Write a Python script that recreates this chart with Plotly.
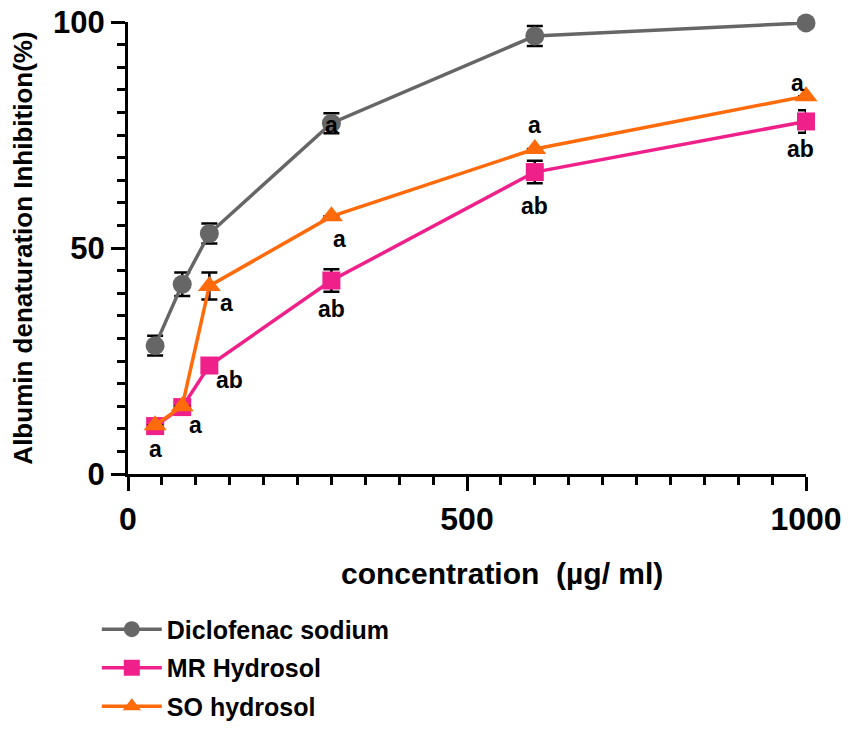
import plotly.graph_objects as go

# concentrations (µg/ml)
conc = [40, 80, 120, 300, 600, 1000]

# % inhibition
diclofenac = [28.4, 42.0, 53.2, 77.6, 96.9, 99.8]
diclofenac_err = [2.2, 2.6, 2.2, 2.2, 2.2, 0.5]
mr_hydrosol = [10.6, 14.8, 24.0, 42.8, 66.8, 78.0]
mr_err = [0, 0, 0, 2.5, 2.5, 2.5]
so_hydrosol = [10.8, 15.0, 41.6, 57.0, 71.9, 83.6]
so_err = [0, 0, 3.0, 0, 0, 0]

# significance letters: (x, y, text)
letter_x = [40, 100, 150, 145, 300, 312, 300, 600, 600, 988, 992]
letter_y = [5.5, 10.8, 20.8, 37.8, 36.6, 52.0, 77.3, 77.2, 59.2, 86.6, 72.0]
letter_txt = ["a", "a", "ab", "a", "ab", "a", "a", "a", "ab", "a", "ab"]

FONT = "Liberation Sans"

fig = go.Figure()


def add_series(y, err, name, color, symbol, size):
    fig.add_trace(go.Scatter(
        x=conc, y=y, name="<b>%s</b>" % name, mode="lines+markers",
        legendgroup=name,
        line=dict(color=color, width=3.5),
        marker=dict(symbol=symbol, size=size, color=color),
        error_y=dict(type="data", array=err, color="black", thickness=2.5, width=8),
        cliponaxis=False,
    ))


add_series(diclofenac, diclofenac_err, "Diclofenac sodium", "#666666", "circle", 19)
add_series(mr_hydrosol, mr_err, "MR Hydrosol", "#f0208a", "square", 18)
add_series(so_hydrosol, so_err, "SO hydrosol", "#ff6a0a", "triangle-up", 20)

for lx, ly, lt in zip(letter_x, letter_y, letter_txt):
    fig.add_annotation(x=lx, y=ly, text="<b>%s</b>" % lt, showarrow=False,
                       font=dict(family=FONT, size=23, color="black"))

# x axis title, set a little right of centre as in the original
fig.add_annotation(xref="paper", yref="paper", x=0.552, y=-0.22,
                   xanchor="center", yanchor="middle", showarrow=False,
                   text="<b>concentration  (µg/ ml)</b>",
                   font=dict(family=FONT, size=30, color="black"))

# margins allow for the page's 8px body margin
fig.update_layout(
    width=850, height=733,
    paper_bgcolor="white", plot_bgcolor="white",
    margin=dict(l=120, r=52, t=14, b=264),
    font=dict(family=FONT, color="black"),
    legend=dict(
        x=-0.046, y=-0.293, xanchor="left", yanchor="top",
        font=dict(family=FONT, size=25, color="black"),
        itemwidth=60, tracegroupgap=3,
    ),
)
fig.update_xaxes(
    range=[0, 1000], tickvals=[0, 500, 1000],
    ticktext=["<b>0</b>", "<b>500</b>", "<b>1000</b>"],
    ticks="outside", ticklen=14, tickwidth=3, tickcolor="black",
    showline=True, linewidth=3, linecolor="black",
    showgrid=False, zeroline=False, automargin=False,
    tickfont=dict(family=FONT, size=32, color="black"),
    ticklabelstandoff=1, ticklabeloverflow="allow",
    minor=dict(dtick=50, ticks="outside", ticklen=8, tickwidth=3, tickcolor="black"),
)
fig.update_yaxes(
    range=[0, 100], tickvals=[0, 50, 100],
    ticktext=["<b>0</b>", "<b>50</b>", "<b>100</b>"],
    ticks="outside", ticklen=14, tickwidth=3, tickcolor="black",
    showline=True, linewidth=3, linecolor="black",
    showgrid=False, zeroline=False, automargin=False,
    tickfont=dict(family=FONT, size=31, color="black"),
    ticklabeloverflow="allow",
    minor=dict(dtick=5, ticks="outside", ticklen=8, tickwidth=3, tickcolor="black"),
    title=dict(text="<b>Albumin denaturation Inhibition(%)</b>", font=dict(family=FONT, size=26), standoff=16),
)

fig.write_html("out.html", config=dict(displayModeBar=False))
